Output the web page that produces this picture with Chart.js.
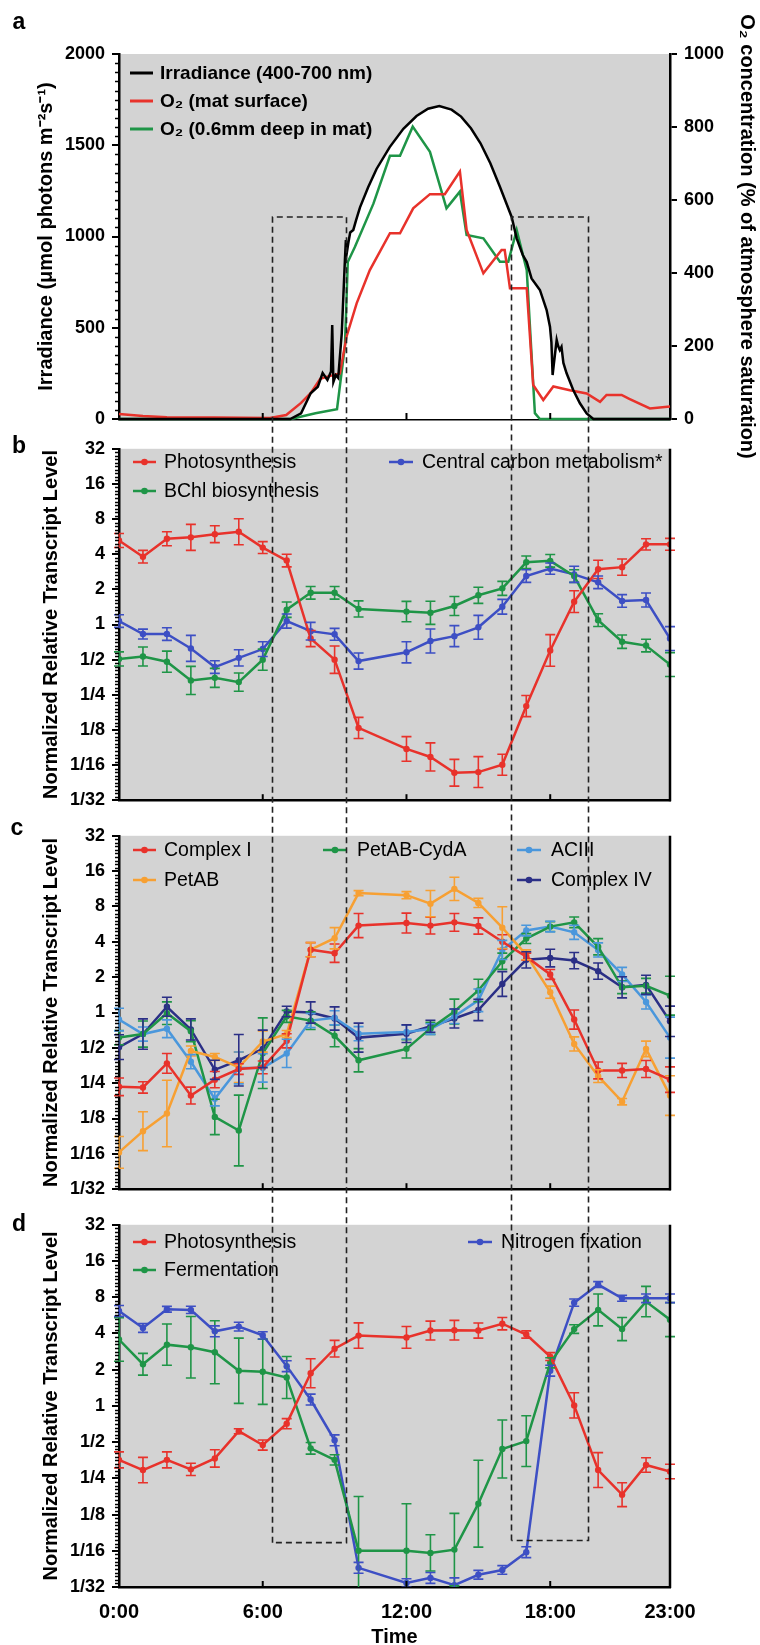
<!DOCTYPE html>
<html><head><meta charset="utf-8">
<script src="https://cdn.jsdelivr.net/npm/chart.js@4.4.1/dist/chart.umd.min.js"></script>
<style>
html,body{margin:0;padding:0;background:#fff;overflow:hidden;}
#wrap{position:relative;width:760px;height:1645px;}
canvas{position:absolute;left:0;}
</style></head><body><div id="wrap">
<canvas id="ca" width="760" height="470" style="top:0px;width:760px;height:470px"></canvas>
<canvas id="cb" width="760" height="387" style="top:431px;width:760px;height:387px"></canvas>
<canvas id="cc" width="760" height="389" style="top:818px;width:760px;height:389px"></canvas>
<canvas id="cd" width="760" height="445" style="top:1207px;width:760px;height:445px"></canvas>
<canvas id="ov" width="760" height="1645" style="top:0px;width:760px;height:1645px;pointer-events:none"></canvas>
</div>
<script>
// ---------------- DATA ----------------
const hours = [0,1,2,3,4,5,6,7,8,9,10,11,12,13,14,15,16,17,18,19,20,21,22,23];
const xTickHours = [0,6,12,18,23];
const log2Ticks = [1/32,1/16,1/8,1/4,1/2,1,2,4,8,16,32];

// panel a
const irrHours  = [0,7.15,7.6,8.0,8.3,8.5,8.7,8.85,8.9,8.95,9.05,9.15,9.3,9.43,9.47,9.52,9.57,9.65,9.78,9.9,10.06,10.4,10.75,11.3,11.87,12.42,12.9,13.37,13.88,14.28,14.69,15.09,15.5,15.9,16.39,16.6,16.85,17.02,17.22,17.57,17.85,17.99,18.05,18.1,18.15,18.27,18.33,18.4,18.47,18.55,18.68,18.96,19.24,19.52,19.8,23];
const irrValues = [0,0,31,141,177,252,214,260,515,203,240,225,471,871,980,920,963,1022,1036,1091,1160,1270,1370,1490,1590,1660,1700,1715,1695,1657,1593,1511,1401,1273,1107,990,900,860,770,707,597,506,420,241,300,433,400,378,395,307,252,159,86,31,0,0];
const o2sHours  = [0,1,2,4,6.3,6.98,7.6,8.0,8.4,8.7,9.22,9.5,9.92,10.47,11.31,11.73,12.28,12.98,13.6,14.23,14.51,15.21,15.97,16.1,16.32,17.02,17.29,17.71,18.13,18.82,19.52,20.08,20.35,20.98,21.3,22.16,23];
const o2sValues = [14,8,5,4,3,11,44,71,110,116,125,226,317,408,509,509,577,616,616,678,518,399,463,463,358,358,93,52,89,79,70,47,66,66,55,29,34];
const o2dHours  = [0,7.18,8.2,9.1,9.43,9.55,9.85,10.62,11.31,11.73,12.26,12.98,13.67,14.23,14.51,15.21,15.9,16.25,16.6,17.02,17.36,17.57,23];
const o2dValues = [0,0,16,27,200,430,472,590,721,721,801,732,577,623,504,495,431,431,518,408,16,0,0];

// panel b (relative transcript level; error = half-width in log2 units)
const bPhoto    = [5.24,3.81,5.43,5.58,5.94,6.23,4.56,3.53,0.758,0.5,0.130,null,0.0859,0.0733,0.0537,0.0544,0.0629,0.200,0.599,1.57,2.97,3.10,4.86,4.86];
const bPhotoErr = [0.2,0.18,0.2,0.37,0.24,0.37,0.17,0.18,0.23,0.39,0.3,null,0.35,0.4,0.38,0.44,0.3,0.3,0.45,0.31,0.26,0.23,0.16,0.17];
const bBchl     = [0.507,0.532,0.480,0.332,0.349,0.321,0.5,1.34,1.87,1.87,1.36,null,1.29,1.26,1.44,1.78,2.04,3.41,3.51,2.60,1.09,0.712,0.660,0.454];
const bBchlErr  = [0.2,0.27,0.3,0.4,0.27,0.26,0.3,0.22,0.18,0.18,0.23,null,0.29,0.33,0.27,0.23,0.2,0.18,0.18,0.18,0.18,0.19,0.18,0.34];
const bCcm      = [1.07,0.829,0.829,0.624,0.432,0.518,0.616,1.07,0.877,0.824,0.486,null,0.578,0.722,0.795,0.946,1.42,2.60,3.01,2.69,2.30,1.59,1.62,0.758];
const bCcmErr   = [0.18,0.14,0.18,0.37,0.18,0.23,0.21,0.2,0.25,0.17,0.23,null,0.3,0.34,0.3,0.34,0.21,0.18,0.16,0.23,0.18,0.18,0.2,0.34];

// panel c
const cCx1      = [0.233,0.230,0.369,0.196,0.268,0.330,0.341,0.574,3.43,3.20,5.50,null,5.78,5.50,5.86,5.46,4.0,2.99,2.11,0.871,0.321,0.321,0.330,0.268];
const cCx1Err   = [0.25,0.16,0.28,0.24,0.23,0.15,0.18,0.2,0.2,0.26,0.34,null,0.28,0.24,0.25,0.23,0.2,0.1,0.14,0.27,0.24,0.2,0.24,0.36];
const cPetAB    = [0.0643,0.0975,0.138,0.470,0.418,0.341,0.566,0.655,3.43,4.29,10.4,null,9.99,8.46,11.3,8.57,5.28,3.10,1.49,0.540,0.287,0.174,0.490,0.196];
const cPetABErr = [0.45,0.55,0.94,0.14,0.1,0.43,0.3,0.1,0.2,0.3,0.07,null,0.1,0.37,0.33,0.13,0.59,0.14,0.17,0.2,0.18,0.09,0.22,0.56];
const cCyd      = [0.611,0.655,0.986,0.693,0.129,0.0988,0.45,0.927,0.853,0.633,0.392,null,0.490,0.732,1.02,1.54,2.73,4.26,5.39,5.86,3.63,1.64,1.69,1.39];
const cCydErr   = [0.2,0.37,0.32,0.3,0.5,1.0,1.0,0.17,0.25,0.31,0.33,null,0.26,0.17,0.35,0.32,0.23,0.14,0.14,0.15,0.23,0.18,0.21,0.55];
const cAc3      = [0.871,0.655,0.727,0.381,0.184,0.337,0.337,0.448,0.853,0.901,0.660,null,0.683,0.722,0.927,1.27,3.41,4.99,5.39,4.82,3.41,2.11,1.23,0.611];
const cAc3Err   = [0.32,0.2,0.25,0.2,0.2,0.45,0.4,0.4,0.2,0.2,0.2,null,0.2,0.15,0.2,0.32,0.27,0.15,0.15,0.2,0.2,0.2,0.2,0.58];
const cCx4      = [0.507,0.655,1.12,0.717,0.325,0.392,0.490,1.02,1.0,0.889,0.611,null,0.660,0.763,0.889,1.05,1.75,2.81,2.91,2.77,2.25,1.64,1.72,0.841];
const cCx4Err   = [0.35,0.43,0.27,0.3,0.27,0.73,0.53,0.15,0.3,0.33,0.41,null,0.25,0.17,0.27,0.3,0.35,0.23,0.25,0.23,0.23,0.3,0.27,0.43];

// panel d
const dPhoto    = [0.356,0.293,0.356,0.297,0.366,0.616,0.473,0.712,1.87,2.99,3.84,null,3.71,4.23,4.26,4.23,4.82,3.92,2.57,1.01,0.293,0.183,0.323,0.285];
const dPhotoErr = [0.22,0.35,0.22,0.17,0.24,0.07,0.14,0.14,0.4,0.23,0.35,null,0.3,0.26,0.27,0.21,0.17,0.1,0.11,0.35,0.48,0.33,0.2,0.2];
const dFerm     = [3.56,2.22,3.23,3.07,2.79,1.96,1.92,1.72,0.444,0.356,0.0625,null,0.0625,0.0600,0.0639,0.154,0.438,0.510,2.28,4.35,6.28,4.35,7.36,5.21];
const dFermErr  = [0.6,0.3,0.57,0.85,0.87,0.9,0.9,0.58,0.16,0.14,1.5,null,1.3,0.5,1.0,1.2,0.8,0.7,0.14,0.12,0.44,0.32,0.42,0.47];
const dNfix     = [6.15,4.44,6.36,6.28,4.17,4.56,3.86,2.14,1.13,0.518,0.0451,null,0.0337,0.0372,0.0324,0.0395,0.0433,0.0608,1.96,7.21,10.2,7.84,7.84,7.84];
const dNfixErr  = [0.15,0.12,0.08,0.1,0.15,0.12,0.1,0.15,0.15,0.15,0.15,null,0.12,0.15,0.2,0.12,0.12,0.15,0.15,0.1,0.08,0.08,0.12,0.12];

// dashed boxes
const boxHours = [[6.37,9.46],[16.38,19.57]];
const boxTopIrr = 1107;
const boxBottomLevel = [0.073,0.076];

// ---------------- STYLE ----------------
const FONT = "'Liberation Sans', Arial, Helvetica, sans-serif";
Chart.defaults.font.family = FONT;
Chart.defaults.color = '#000';
const C = {red:'#e8322b', green:'#1f9547', blue:'#3d4fc4', orange:'#f7a033', lblue:'#4a97dc', navy:'#2b2f86', bg:'#d3d3d3'};
const PLOT_L = 119, RIGHT_PAD = 90;

function xy(xs, ys){ return xs.map((x,i)=>({x:x, y:ys[i]})); }
function fmtLog(v){ return v >= 1 ? String(Math.round(v)) : '1/' + Math.round(1/v); }

const deco = {
  id:'deco',
  beforeDraw(chart, args, o){
    const {ctx, chartArea:a} = chart;
    ctx.save(); ctx.fillStyle = C.bg; ctx.fillRect(a.left, a.top, a.right-a.left, a.bottom-a.top); ctx.restore();
  },
  afterDatasetsDraw(chart, args, o){
    const {ctx, chartArea:a} = chart;
    const xs = chart.scales.x, ys = chart.scales.y;
    if (!ys) return;
    ctx.save(); ctx.beginPath(); ctx.rect(a.left-8, a.top-2, a.right-a.left+16, a.bottom-a.top+2); ctx.clip();
    chart.data.datasets.forEach(ds=>{
      if (!ds.err) return;
      ctx.strokeStyle = ds.borderColor; ctx.lineWidth = 1.6;
      ds.data.forEach((p,i)=>{
        const e = ds.err[i]; if (p.y == null || e == null) return;
        const f = Math.pow(2, e);
        const x = xs.getPixelForValue(p.x);
        const y0 = ys.getPixelForValue(p.y / f), y1 = ys.getPixelForValue(p.y * f);
        ctx.beginPath();
        ctx.moveTo(x, y0); ctx.lineTo(x, y1);
        ctx.moveTo(x-5, y0); ctx.lineTo(x+5, y0);
        ctx.moveTo(x-5, y1); ctx.lineTo(x+5, y1);
        ctx.stroke();
      });
    });
    ctx.restore();
  },
  afterDraw(chart, args, o){
    const {ctx, chartArea:a} = chart;
    const xs = chart.scales.x;
    ctx.save();
    ctx.strokeStyle = '#000'; ctx.lineWidth = 1.5;
    const yl = chart.scales[o.leftId];
    o.minor.forEach(v=>{
      const y = Math.round(yl.getPixelForValue(v)) + 0.5;
      ctx.beginPath(); ctx.moveTo(a.left-4, y); ctx.lineTo(a.left, y); ctx.stroke();
    });
    ctx.lineWidth = 2;
    [6,12,18].forEach(h=>{
      const x = xs.getPixelForValue(h);
      ctx.beginPath(); ctx.moveTo(x, a.bottom); ctx.lineTo(x, a.bottom-6); ctx.stroke();
    });
    if (o.rightBorder){
      ctx.lineWidth = 2.5;
      ctx.beginPath(); ctx.moveTo(a.right, a.top); ctx.lineTo(a.right, a.bottom+1); ctx.stroke();
    }
    o.legend.forEach(it=>{
      const ds = chart.data.datasets[it.ds];
      ctx.strokeStyle = ds.borderColor; ctx.lineWidth = it.dot ? 2.5 : 3;
      ctx.beginPath(); ctx.moveTo(it.x0, it.y); ctx.lineTo(it.x1, it.y); ctx.stroke();
      if (it.dot){ ctx.fillStyle = ds.borderColor; ctx.beginPath(); ctx.arc((it.x0+it.x1)/2, it.y, 3.3, 0, Math.PI*2); ctx.fill(); }
      ctx.fillStyle = '#000'; ctx.font = o.legendFont; ctx.textAlign = 'left'; ctx.textBaseline = 'middle';
      ctx.fillText(ds.label, it.tx, it.y + 1);
    });
    ctx.fillStyle = '#000'; ctx.font = 'bold 23px ' + FONT; ctx.textAlign = 'center'; ctx.textBaseline = 'middle';
    ctx.fillText(o.letter[0], o.letter[1], o.letter[2]);
    ctx.restore();
  }
};

const tickFont = {family:FONT, size:18, weight:'bold'};
const titleFont = {family:FONT, size:20, weight:'bold'};

function xScale(h, labels){
  return {
    type:'linear', min:0, max:23,
    afterBuildTicks: s=>{ s.ticks = xTickHours.map(v=>({value:v})); },
    afterFit: s=>{ s.height = h; },
    ticks:{display:labels, font:{family:FONT,size:20,weight:'bold'}, padding:13, maxRotation:0, autoSkip:false,
      callback: v => v + ':00'},
    grid:{display:false, drawTicks:false},
    border:{display:true, color:'#000', width:2.5},
    title:{display:labels, text:'Time', font:titleFont, padding:{top:0,bottom:3}}
  };
}
function logScale(){
  return {
    type:'logarithmic', min:1/32, max:32, position:'left',
    afterBuildTicks: s=>{ s.ticks = log2Ticks.map(v=>({value:v})); },
    afterFit: s=>{ s.width = PLOT_L; },
    ticks:{font:tickFont, padding:7, autoSkip:false, callback: v => fmtLog(v)},
    grid:{display:true, drawOnChartArea:false, drawTicks:true, tickLength:7, color:'#000', lineWidth:2},
    border:{display:true, color:'#000', width:2.5},
    title:{display:true, text:'Normalized Relative Transcript Level', font:titleFont, padding:{top:39,bottom:0}}
  };
}
function logMinor(){
  const m = [];
  for (let k=-5; k<5; k++) for (let j=1; j<10; j++) m.push(Math.pow(2, k + j/10));
  return m;
}
function lineDs(label, vals, err, color){
  return {label:label, data: xy(hours, vals), err: err, borderColor:color, backgroundColor:color,
    borderWidth:2.5, pointRadius:3.2, pointBorderWidth:0, pointBackgroundColor:color, spanGaps:true, tension:0};
}

// ---------------- PANEL A ----------------
const minorA = [];
for (let v=50; v<2000; v+=50) if (v % 500 !== 0) minorA.push(v);
const chartA = new Chart(document.getElementById('ca'), {
  type:'line',
  data:{datasets:[
    {label:'Irradiance (400-700 nm)', data: xy(irrHours, irrValues), yAxisID:'yL', borderColor:'#000', borderWidth:2.5,
      pointRadius:0, fill:'origin', backgroundColor:'#fff', tension:0, clip:false},
    {label:'O\u2082 (mat surface)', data: xy(o2sHours, o2sValues), yAxisID:'yR', borderColor:C.red, borderWidth:2.5,
      pointRadius:0, fill:false, tension:0, clip:false},
    {label:'O\u2082 (0.6mm deep in mat)', data: xy(o2dHours, o2dValues), yAxisID:'yR', borderColor:C.green, borderWidth:2.5,
      pointRadius:0, fill:false, tension:0, clip:false}
  ]},
  options:{
    responsive:false, animation:false, events:[],
    layout:{padding:{top:54, bottom:0, left:0, right:0}},
    plugins:{legend:{display:false}, tooltip:{enabled:false}, filler:{drawTime:'beforeDatasetsDraw', propagate:false},
      deco:{leftId:'yL', minor:minorA, rightBorder:false, legendFont:'bold 19px ' + FONT,
        letter:['a',19,23],
        legend:[{ds:0,x0:130,x1:153,tx:160,y:73},{ds:1,x0:130,x1:153,tx:160,y:101},{ds:2,x0:130,x1:153,tx:160,y:129}]}},
    scales:{
      x: xScale(51, false),
      yL:{type:'linear', position:'left', min:0, max:2000,
        afterFit: s=>{ s.width = PLOT_L; },
        ticks:{stepSize:500, font:tickFont, padding:7, callback: v => String(v)},
        grid:{display:true, drawOnChartArea:false, drawTicks:true, tickLength:7, color:'#000', lineWidth:2},
        border:{display:true, color:'#000', width:2.5},
        title:{display:true, text:'Irradiance (\u03bcmol photons m\u207b\u00b2s\u207b\u00b9)', font:titleFont, padding:{top:34,bottom:0}}},
      yR:{type:'linear', position:'right', min:0, max:1000,
        afterFit: s=>{ s.width = 760 - 670; },
        ticks:{stepSize:200, font:tickFont, padding:7, callback: v => String(v)},
        grid:{display:true, drawOnChartArea:false, drawTicks:true, tickLength:7, color:'#000', lineWidth:2},
        border:{display:true, color:'#000', width:2.5},
        title:{display:true, text:'O\u2082 concentration (% of atmosphere saturation)', font:titleFont, padding:{top:1,bottom:0}}}
    }
  },
  plugins:[deco]
});

// ---------------- PANELS B-D ----------------
function logPanel(id, padTop, xH, labels, datasets, legend, letter){
  return new Chart(document.getElementById(id), {
    type:'line',
    data:{datasets:datasets},
    options:{
      responsive:false, animation:false, events:[],
      layout:{padding:{top:padTop, bottom:0, left:0, right:RIGHT_PAD}},
      plugins:{legend:{display:false}, tooltip:{enabled:false},
        deco:{leftId:'y', minor:logMinor(), rightBorder:true, legendFont:'19.5px ' + FONT, letter:letter, legend:legend}},
      scales:{ x: xScale(xH, labels), y: logScale() }
    },
    plugins:[deco]
  });
}

const chartB = logPanel('cb', 12, 11, false, [
  lineDs('Photosynthesis', bPhoto, bPhotoErr, C.red),
  lineDs('BChl biosynthesis', bBchl, bBchlErr, C.green),
  lineDs('Central carbon metabolism*', bCcm, bCcmErr, C.blue)
], [
  {ds:0,x0:133,x1:156,tx:164,y:31,dot:true},
  {ds:1,x0:133,x1:156,tx:164,y:60,dot:true},
  {ds:2,x0:389,x1:413,tx:422,y:31,dot:true}
], ['b',19,16]);

const chartC = logPanel('cc', 11, 14, false, [
  lineDs('Complex I', cCx1, cCx1Err, C.red),
  lineDs('PetAB', cPetAB, cPetABErr, C.orange),
  lineDs('PetAB-CydA', cCyd, cCydErr, C.green),
  lineDs('ACIII', cAc3, cAc3Err, C.lblue),
  lineDs('Complex IV', cCx4, cCx4Err, C.navy)
], [
  {ds:0,x0:133,x1:156,tx:164,y:32,dot:true},
  {ds:1,x0:133,x1:156,tx:164,y:62,dot:true},
  {ds:2,x0:323,x1:347,tx:357,y:32,dot:true},
  {ds:3,x0:517,x1:541,tx:551,y:32,dot:true},
  {ds:4,x0:517,x1:541,tx:551,y:62,dot:true}
], ['c',17,11]);

const chartD = logPanel('cd', 14, 65, true, [
  lineDs('Photosynthesis', dPhoto, dPhotoErr, C.red),
  lineDs('Fermentation', dFerm, dFermErr, C.green),
  lineDs('Nitrogen fixation', dNfix, dNfixErr, C.blue)
], [
  {ds:0,x0:133,x1:156,tx:164,y:35,dot:true},
  {ds:1,x0:133,x1:156,tx:164,y:63,dot:true},
  {ds:2,x0:468,x1:492,tx:501,y:35,dot:true}
], ['d',19,18]);

// ---------------- DASHED BOXES (overlay) ----------------
(function(){
  const ctx = document.getElementById('ov').getContext('2d');
  const topA = 0, topD = 1207;
  const xs = chartA.scales.x;
  const yTop = topA + chartA.scales.yL.getPixelForValue(boxTopIrr);
  ctx.strokeStyle = '#222'; ctx.lineWidth = 1.6; ctx.setLineDash([6,4]);
  boxHours.forEach((b,i)=>{
    const x0 = Math.round(xs.getPixelForValue(b[0])) + 0.5;
    const x1 = Math.round(xs.getPixelForValue(b[1])) + 0.5;
    const yB = topD + chartD.scales.y.getPixelForValue(boxBottomLevel[i]);
    ctx.beginPath();
    ctx.moveTo(x0, yB); ctx.lineTo(x0, yTop); ctx.lineTo(x1, yTop); ctx.lineTo(x1, yB); ctx.lineTo(x0, yB);
    ctx.stroke();
  });
})();
</script>
</body></html>
